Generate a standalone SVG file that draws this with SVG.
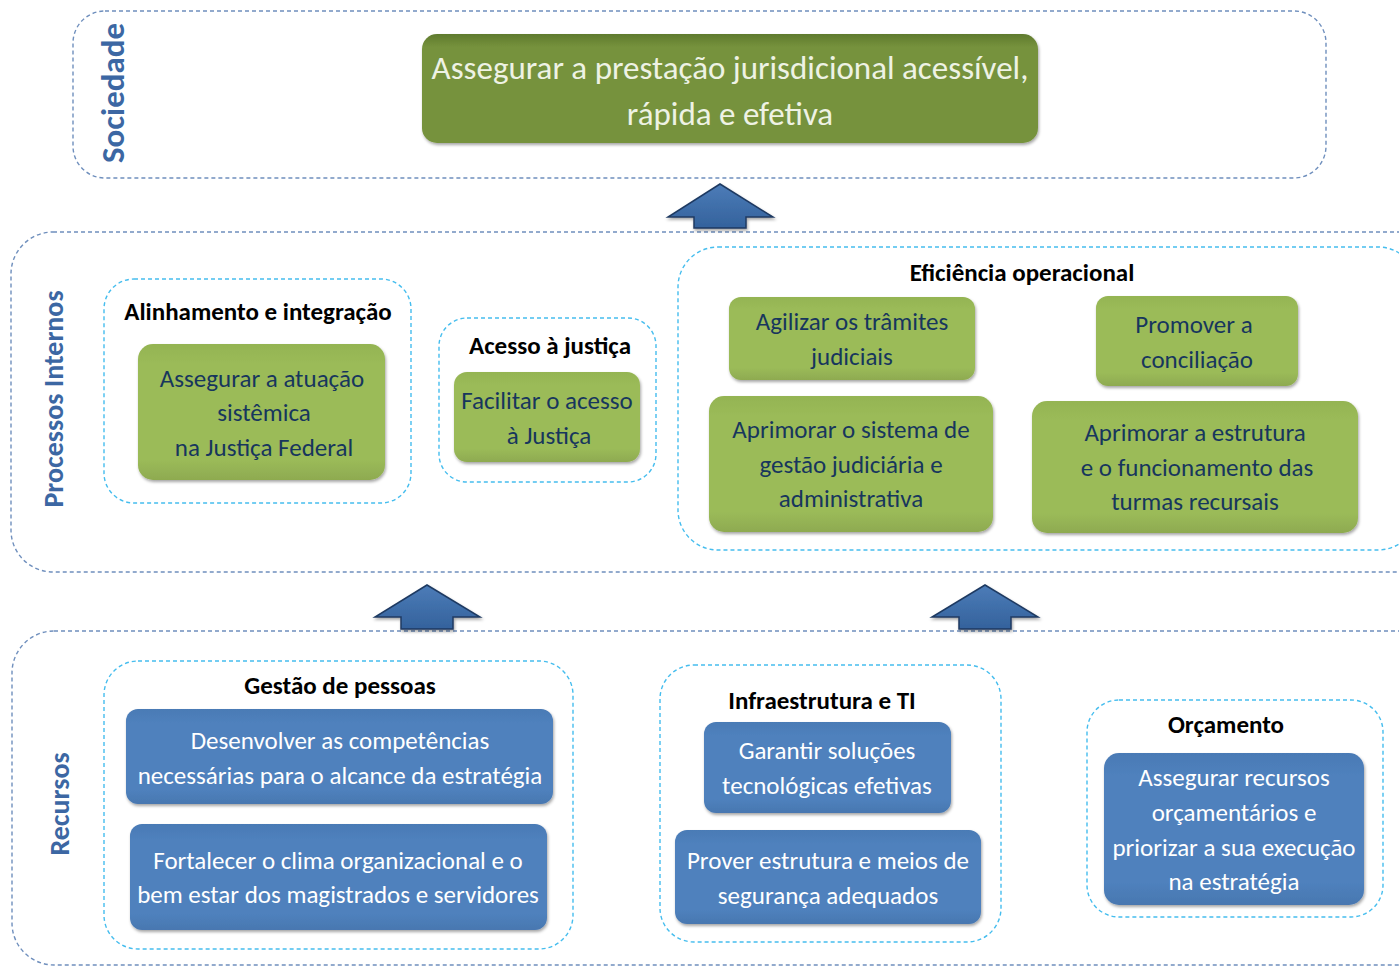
<svg xmlns="http://www.w3.org/2000/svg" width="1399" height="967" viewBox="0 0 1399 967">
<style>
.outer{fill:none;stroke:#6f8fbd;stroke-width:1.4;stroke-dasharray:4 3}
.inner{fill:none;stroke:#45bdee;stroke-width:1.4;stroke-dasharray:4 3}
.grn{fill:url(#gG);filter:url(#sh)}
.blu{fill:url(#gB);filter:url(#sh)}
.t{font-family:Carlito,"Liberation Sans Narrow","Liberation Sans",Arial,sans-serif;text-anchor:middle}
.gt{fill:#17365d;font-size:25px}
.bt{fill:#ffffff;font-size:25px}
.ttl{fill:#000;font-size:25px;font-weight:bold}
.lbl{fill:#3c67a3;font-size:28px;font-weight:bold}
.arr{fill:url(#gA);stroke:#1f3a62;stroke-width:1.5;filter:url(#sh)}
</style>
<defs>
<filter id="sh" x="-10%" y="-10%" width="120%" height="130%">
<feDropShadow dx="1" dy="2" stdDeviation="1.5" flood-color="#000" flood-opacity="0.35"/>
</filter>
<linearGradient id="gG" x1="0" y1="0" x2="0" y2="1">
<stop offset="0" stop-color="#94b452"/><stop offset="0.15" stop-color="#9bbb59"/><stop offset="0.85" stop-color="#9bbb59"/><stop offset="1" stop-color="#8eaa50"/>
</linearGradient>
<linearGradient id="gB" x1="0" y1="0" x2="0" y2="1">
<stop offset="0" stop-color="#4a7ab5"/><stop offset="0.15" stop-color="#4f81bd"/><stop offset="0.85" stop-color="#4f81bd"/><stop offset="1" stop-color="#4877b0"/>
</linearGradient>
<linearGradient id="gD" x1="0" y1="0" x2="0" y2="1">
<stop offset="0" stop-color="#5f7a2e"/><stop offset="0.12" stop-color="#76923c"/><stop offset="1" stop-color="#76923c"/>
</linearGradient>
<linearGradient id="gA" x1="0" y1="0" x2="0" y2="1">
<stop offset="0" stop-color="#4c7cb8"/><stop offset="1" stop-color="#34629c"/>
</linearGradient>
</defs>

<g id="sociedade">
<rect class="outer" x="73" y="11" width="1253" height="167" rx="32"/>
<text class="t lbl" transform="translate(124,93) rotate(-90)" style="font-size:33px">Sociedade</text>
</g>
<g id="processos">
<rect class="outer" x="11" y="232" width="1430" height="340" rx="42"/>
<text class="t lbl" transform="translate(63,399) rotate(-90)" style="font-size:28px">Processos Internos</text>
</g>
<g id="recursos">
<rect class="outer" x="12" y="631" width="1430" height="334" rx="42"/>
<text class="t lbl" transform="translate(69,804) rotate(-90)">Recursos</text>
</g>

<g id="objetivo-sociedade">
<rect x="422" y="34" width="616" height="109" rx="15" fill="url(#gD)" filter="url(#sh)"/>
<text class="t" x="730" y="79" fill="#eef2e4" style="font-size:33px">Assegurar a prestação jurisdicional acessível,</text>
<text class="t" x="730" y="125" fill="#eef2e4" style="font-size:33px">rápida e efetiva</text>
</g>

<g id="connectors">
<path class="arr" d="M720,184 L773,217 L746,217 L746,228 L694,228 L694,217 L668,217 Z"/>
<path class="arr" d="M427,585 L480,617 L453,617 L453,629 L401,629 L401,617 L375,617 Z"/>
<path class="arr" d="M985,585 L1038,617 L1011,617 L1011,629 L959,629 L959,617 L932,617 Z"/>
</g>

<g id="alinhamento">
<rect class="inner" x="104" y="279" width="307" height="224" rx="30"/>
<text class="t ttl" x="258" y="320">Alinhamento e integração</text>
<rect class="grn" x="138" y="344" width="247" height="136" rx="15"/>
<text class="t gt" x="262" y="387">Assegurar a atuação</text>
<text class="t gt" x="264" y="421">sistêmica</text>
<text class="t gt" x="264" y="456">na Justiça Federal</text>
</g>

<g id="acesso">
<rect class="inner" x="439" y="318" width="217" height="164" rx="28"/>
<text class="t ttl" x="550" y="354">Acesso à justiça</text>
<rect class="grn" x="454" y="372" width="186" height="90" rx="13"/>
<text class="t gt" x="547" y="409">Facilitar o acesso</text>
<text class="t gt" x="549" y="444">à Justiça</text>
</g>

<g id="eficiencia">
<rect class="inner" x="678" y="247" width="740" height="303" rx="40"/>
<text class="t ttl" x="1022" y="281">Eficiência operacional</text>
<rect class="grn" x="729" y="297" width="246" height="83" rx="12"/>
<text class="t gt" x="852" y="330">Agilizar os trâmites</text>
<text class="t gt" x="852" y="365">judiciais</text>
<rect class="grn" x="1096" y="296" width="202" height="90" rx="12"/>
<text class="t gt" x="1194" y="333">Promover a</text>
<text class="t gt" x="1197" y="368">conciliação</text>
<rect class="grn" x="709" y="396" width="284" height="136" rx="15"/>
<text class="t gt" x="851" y="438">Aprimorar o sistema de</text>
<text class="t gt" x="851" y="473">gestão judiciária e</text>
<text class="t gt" x="851" y="507">administrativa</text>
<rect class="grn" x="1032" y="401" width="326" height="132" rx="15"/>
<text class="t gt" x="1195" y="441">Aprimorar a estrutura</text>
<text class="t gt" x="1197" y="476">e o funcionamento das</text>
<text class="t gt" x="1195" y="510">turmas recursais</text>
</g>

<g id="gestao-pessoas">
<rect class="inner" x="104" y="661" width="469" height="288" rx="34"/>
<text class="t ttl" x="340" y="694">Gestão de pessoas</text>
<rect class="blu" x="126" y="709" width="427" height="95" rx="12"/>
<text class="t bt" x="340" y="749">Desenvolver as competências</text>
<text class="t bt" x="340" y="784">necessárias para o alcance da estratégia</text>
<rect class="blu" x="130" y="824" width="417" height="106" rx="12"/>
<text class="t bt" x="338" y="869">Fortalecer o clima organizacional e o</text>
<text class="t bt" x="338" y="903">bem estar dos magistrados e servidores</text>
</g>

<g id="infraestrutura">
<rect class="inner" x="660" y="665" width="341" height="277" rx="34"/>
<text class="t ttl" x="822" y="709">Infraestrutura e TI</text>
<rect class="blu" x="704" y="722" width="247" height="91" rx="12"/>
<text class="t bt" x="827" y="759">Garantir soluções</text>
<text class="t bt" x="827" y="794">tecnológicas efetivas</text>
<rect class="blu" x="675" y="830" width="306" height="94" rx="12"/>
<text class="t bt" x="828" y="869">Prover estrutura e meios de</text>
<text class="t bt" x="828" y="904">segurança adequados</text>
</g>

<g id="orcamento">
<rect class="inner" x="1087" y="700" width="296" height="217" rx="32"/>
<text class="t ttl" x="1226" y="733">Orçamento</text>
<rect class="blu" x="1104" y="753" width="260" height="152" rx="15"/>
<text class="t bt" x="1234" y="786">Assegurar recursos</text>
<text class="t bt" x="1234" y="821">orçamentários e</text>
<text class="t bt" x="1234" y="856">priorizar a sua execução</text>
<text class="t bt" x="1234" y="890">na estratégia</text>
</g>
</svg>
